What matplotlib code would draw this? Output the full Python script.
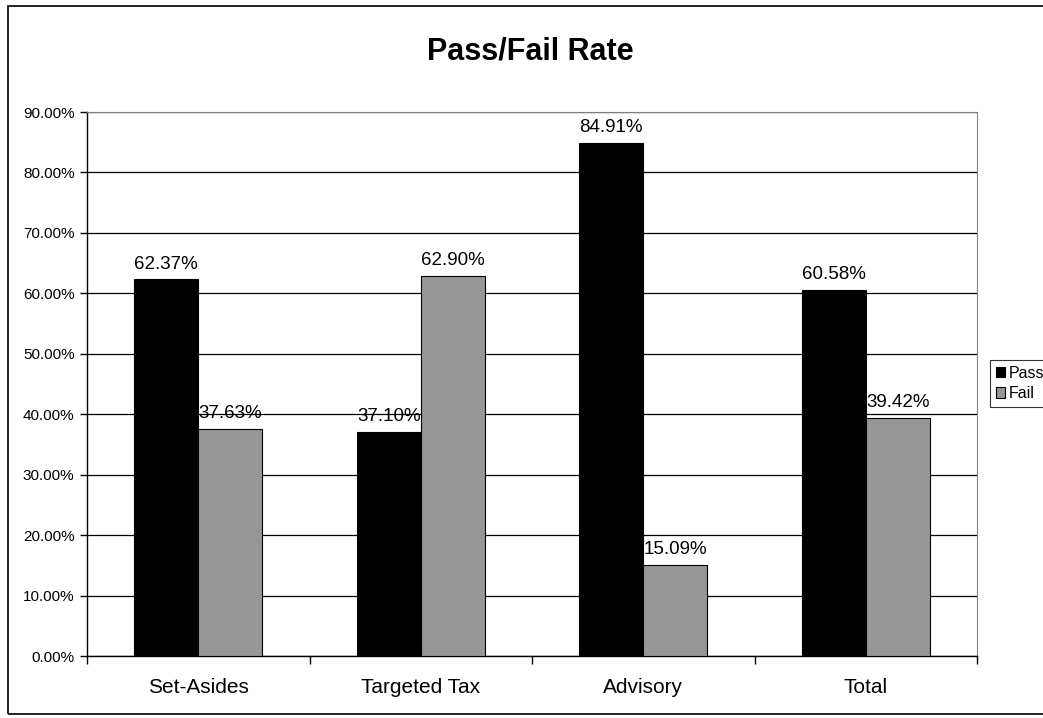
import numpy as np
import matplotlib.pyplot as plt
import matplotlib.patches as mpatches
from matplotlib.ticker import PercentFormatter

plt.rcParams['font.family'] = ['Liberation Sans', 'DejaVu Sans']

categories = ["Set-Asides", "Targeted Tax", "Advisory", "Total"]
passRate = [62.37, 37.10, 84.91, 60.58]
failRate = [37.63, 62.90, 15.09, 39.42]
seriesNames = ["Pass", "Fail"]
seriesColors = ["#000000", "#969696"]

fig = plt.figure(figsize=(10.43, 7.18), dpi=100)
# outer chart border like a spreadsheet chart object
fig.patches.append(mpatches.Rectangle((8/1043, 4/718), 1.2, 708/718, transform=fig.transFigure,
                                      fill=False, edgecolor='black', linewidth=1.2))
ax = fig.add_axes([87/1043, 62/718, 890/1043, 544/718])

x = np.arange(len(categories)) + 0.5
w = 0.288
ax.bar(x - w/2, passRate, w, color=seriesColors[0], edgecolor='black', linewidth=0.8, zorder=3)
ax.bar(x + w/2, failRate, w, color=seriesColors[1], edgecolor='black', linewidth=0.8, zorder=3)

for i in range(len(categories)):
    ax.annotate("%.2f%%" % passRate[i], (x[i] - w/2, passRate[i]), xytext=(0, 7.5), textcoords='offset points',
                ha='center', va='baseline', fontsize=13.5, zorder=4)
    ax.annotate("%.2f%%" % failRate[i], (x[i] + w/2, failRate[i]), xytext=(0, 7.5), textcoords='offset points',
                ha='center', va='baseline', fontsize=13.5, zorder=4)

ax.set_xlim(0, len(categories))
ax.set_ylim(0, 90)
ax.set_yticks(np.arange(0, 91, 10))
ax.yaxis.set_major_formatter(PercentFormatter(decimals=2))
ax.grid(axis='y', color='black', linewidth=0.9, zorder=0)

ax.set_xticks(np.arange(len(categories) + 1))
ax.set_xticklabels([])
ax.set_xticks(x, minor=True)
ax.set_xticklabels(categories, minor=True, fontsize=15)
ax.tick_params(axis='x', which='minor', length=0, pad=16)
ax.tick_params(axis='x', which='major', length=6, width=1, direction='out')
ax.tick_params(axis='y', length=5, width=1, labelsize=11, pad=4)

ax.spines['top'].set_color('#808080')
ax.spines['right'].set_color('#808080')
ax.spines['left'].set_linewidth(1)
ax.spines['bottom'].set_linewidth(1)

fig.text(530/1043, 1 - 60/718, "Pass/Fail Rate", fontsize=22, fontweight='bold', ha='center', va='baseline')

patches = [mpatches.Patch(facecolor=c, edgecolor='black', linewidth=0.8, label=l) for c, l in zip(seriesColors, seriesNames)]
leg = fig.legend(handles=patches, loc='upper left', bbox_to_anchor=(990/1043, 1 - 360/718), fontsize=11.5,
                 frameon=True, fancybox=False, edgecolor='black', handlelength=0.6, handleheight=0.6,
                 handletextpad=0.2, borderpad=0.35, labelspacing=0.35, borderaxespad=0)
leg.get_frame().set_linewidth(0.8)

fig.savefig("out.png", dpi=100)
